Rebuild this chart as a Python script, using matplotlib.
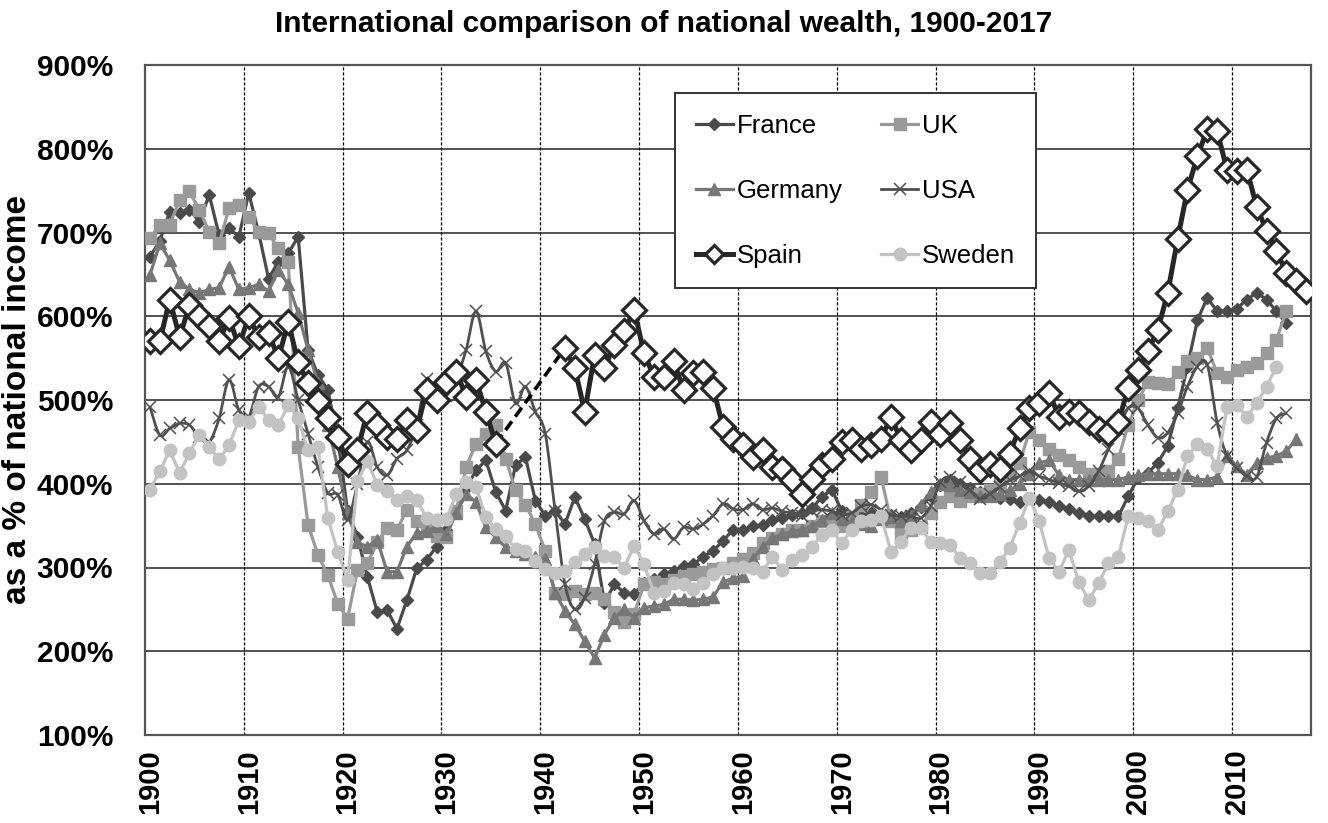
import numpy as np
import matplotlib
matplotlib.use("Agg")
import matplotlib.pyplot as plt
from matplotlib.lines import Line2D
from matplotlib.path import Path
from matplotlib.patches import PathPatch

plt.rcParams['font.family'] = ['Liberation Sans', 'DejaVu Sans']

years = np.arange(1900, 2018)
N = None

france = [671, 690, 725, 723, 727, 713, 745, 697, 705, 695,
          747, 700, 645, 665, 675, 695, 560, 530, 512, 455,
          368, 337, 289, 247, 249, 227, 261, 299, 309, 325,
          345, 365, 395, 416, 428, 390, 368, 422, 432, 380,
          362, 368, 352, 384, 358, 328, 258, 280, 270, 268,
          282, 286, 292, 296, 302, 304, 313, 320, 332, 345,
          345, 349, 351, 357, 359, 363, 365, 371, 384, 393,
          368, 360, 362, 365, 360, 363, 360, 365, 372, 385,
          398, 405, 400, 395, 390, 387, 383, 382, 378, 383,
          381, 378, 373, 370, 365, 361, 361, 361, 361, 385,
          407, 413, 425, 445, 490, 540, 595, 622, 606, 606,
          609, 620, 628, 620, 606, 592, N, N]

uk = [693, 709, 709, 739, 749, 727, 701, 687, 729, 733,
      719, 701, 699, 681, 665, 444, 351, 315, 291, 257,
      239, 297, 305, 330, 347, 345, 369, 355, 350, 338,
      336, 368, 420, 448, 460, 470, 430, 392, 375, 352,
      320, 270, 268, 272, 268, 270, 262, 247, 235, 245,
      280, 283, 280, 285, 290, 292, 295, 298, 300, 305,
      310, 317, 329, 335, 340, 345, 345, 350, 355, 352,
      350, 360, 375, 390, 408, 355, 340, 345, 348, 365,
      378, 385, 380, 385, 388, 392, 400, 410, 425, 462,
      452, 442, 434, 428, 420, 412, 412, 415, 430, 470,
      500, 522, 520, 519, 533, 547, 550, 562, 532, 528,
      536, 540, 544, 556, 572, 606, N, N]

germany = [649, 687, 667, 641, 632, 628, 632, 634, 659, 632,
           634, 638, 630, 655, 638, 604, 560, 520, 470, 420,
           365, 330, 325, 333, 295, 295, 325, 341, 343, 349,
           340, 365, 388, 378, 348, 336, 324, 320, 316, 312,
           310, 270, 248, 232, 212, 192, 220, 240, 250, 240,
           252, 254, 256, 262, 262, 261, 262, 265, 283, 287,
           290, 310, 325, 335, 340, 343, 345, 350, 357, 365,
           358, 355, 352, 350, 358, 360, 356, 362, 375, 390,
           400, 398, 392, 390, 385, 385, 388, 392, 400, 412,
           425, 428, 410, 405, 405, 405, 405, 405, 405, 408,
           410, 412, 412, 412, 412, 410, 405, 405, 408, 433,
           421, 411, 425, 431, 433, 439, 453, N]

usa = [492, 458, 466, 472, 470, 456, 450, 478, 524, 488,
       480, 516, 516, 504, 540, 500, 460, 420, 389, 387,
       357, 400, 450, 420, 410, 430, 440, 470, 525, 500,
       505, 525, 560, 606, 558, 534, 544, 496, 516, 486,
       460, 368, 280, 250, 264, 304, 356, 366, 364, 380,
       356, 340, 346, 334, 348, 346, 352, 362, 376, 370,
       369, 376, 369, 371, 367, 365, 361, 367, 369, 367,
       363, 365, 373, 375, 369, 363, 361, 361, 359, 373,
       402, 408, 402, 392, 382, 388, 396, 404, 409, 415,
       409, 405, 401, 397, 391, 397, 415, 441, 465, 490,
       490, 470, 455, 461, 484, 516, 540, 542, 473, 433,
       419, 409, 408, 449, 478, 484, N, N]

spain = [570, 570, 620, 575, 613, 600, 588, 570, 598, 564,
         600, 575, 580, 550, 593, 545, 520, 499, 478, 456,
         424, 440, 485, 470, 456, 454, 476, 464, 512, 500,
         522, 534, 504, 524, 486, 448, N, N, N, N,
         N, N, 562, 538, 486, 554, 538, 566, 582, 608,
         556, 528, 528, 546, 512, 532, 534, 514, 468, 454,
         446, 432, 440, 420, 418, 404, 388, 406, 422, 430,
         450, 452, 442, 446, 454, 480, 452, 440, 452, 474,
         460, 472, 452, 430, 416, 424, 418, 436, 466, 490,
         496, 508, 480, 486, 484, 474, 465, 461, 474, 514,
         536, 558, 584, 628, 692, 751, 791, 823, 821, 775,
         773, 775, 731, 702, 678, 652, 642, 630]

sweden = [393, 415, 440, 413, 437, 458, 444, 429, 446, 476,
          474, 492, 476, 470, 494, 478, 440, 444, 359, 319,
          285, 403, 427, 399, 391, 381, 385, 381, 359, 357,
          358, 388, 402, 396, 360, 346, 338, 322, 320, 308,
          298, 294, 296, 306, 316, 324, 314, 312, 300, 326,
          304, 270, 272, 282, 280, 274, 282, 292, 300, 299,
          301, 299, 295, 313, 297, 309, 315, 325, 339, 345,
          329, 345, 355, 357, 361, 319, 331, 347, 347, 331,
          329, 327, 311, 305, 293, 293, 307, 323, 353, 383,
          355, 311, 295, 321, 283, 261, 281, 305, 313, 361,
          359, 355, 345, 367, 393, 433, 447, 441, 421, 492,
          494, 480, 496, 516, 540, N, N, N]


def arr(v):
    return np.array([np.nan if a is None else a for a in v], dtype=float)


def smooth_path(xs, ys):
    # Excel-style smoothed line: Catmull-Rom segments as cubic Beziers
    m = ~np.isnan(ys)
    p = np.column_stack([xs[m], ys[m]])
    verts, codes = [p[0]], [Path.MOVETO]
    for i in range(len(p) - 1):
        p0 = p[i - 1] if i > 0 else p[i]
        p3 = p[i + 2] if i + 2 < len(p) else p[i + 1]
        c1 = p[i] + (p[i + 1] - p0) / 6
        c2 = p[i + 1] - (p3 - p[i]) / 6
        verts += [c1, c2, p[i + 1]]
        codes += [Path.CURVE4] * 3
    return Path(verts, codes)


x = years + 0.5
fig = plt.figure(figsize=(13.28, 8.23), dpi=100)
ax = fig.add_axes([145 / 1328, 1 - 735 / 823, 1166 / 1328, 670 / 823])

styles = {
    "France": dict(color="#4a4a4a", marker="D", ms=6.5, lw=2.3, mfc="#4a4a4a", mec="#4a4a4a"),
    "UK": dict(color="#9a9a9a", marker="s", ms=8, lw=2.3, mfc="#9a9a9a", mec="#9a9a9a"),
    "Germany": dict(color="#777777", marker="^", ms=9, lw=2.3, mfc="#777777", mec="#777777"),
    "USA": dict(color="#505050", marker="x", ms=9, lw=2.0, mew=1.1),
    "Spain": dict(color="#262626", marker="D", ms=12.5, lw=3.6, mfc="white", mec="#262626", mew=2.3),
    "Sweden": dict(color="#c3c3c3", marker="o", ms=9, lw=2.3, mfc="#c3c3c3", mec="#c3c3c3"),
}
series = {"France": france, "UK": uk, "Germany": germany, "USA": usa,
          "Spain": spain, "Sweden": sweden}

for i, (name, vals) in enumerate(series.items()):
    z = 6 if name == "Spain" else 3 + i * 0.1
    st = styles[name]
    if name == "USA":
        ax.add_patch(PathPatch(smooth_path(x, arr(vals)), fill=False,
                               edgecolor=st["color"], lw=st["lw"], zorder=z))
        ax.plot(x, arr(vals), ls="none", zorder=z, marker="x", ms=st["ms"],
                mew=st["mew"], color=st["color"])
    else:
        ax.plot(x, arr(vals), zorder=z, **st)

# Spanish civil war gap bridged with a dashed line
sp = arr(spain)
ax.plot([x[35], x[42]], [sp[35], sp[42]], color="black", ls=(0, (3, 1.6)),
        lw=2.6, zorder=5.5)

ax.set_xlim(1900, 2018)
ax.set_ylim(100, 900)
ax.set_yticks(range(100, 901, 100))
ax.set_yticklabels([f"{v}%" for v in range(100, 901, 100)],
                   fontsize=21.5, fontweight="bold")
dec = np.arange(1900, 2011, 10)
ax.set_xticks(dec + 0.5)
ax.set_xticklabels([str(d) for d in dec], rotation=90, fontsize=21,
                   fontweight="bold")
ax.tick_params(axis="y", length=0, pad=23)
ax.tick_params(axis="x", length=0, pad=10)
for d in dec[1:]:
    ax.axvline(d, color="black", ls=(0, (2.5, 1.5)), lw=0.9, zorder=1)
for v in range(200, 900, 100):
    ax.axhline(v, color="#222222", lw=1.1, zorder=1)
for s in ax.spines.values():
    s.set_color("#555555")
    s.set_linewidth(1.6)

ax.set_ylabel("as a % of national income", fontsize=24, fontweight="bold")
ax.yaxis.set_label_coords(-0.096, 0.5)
fig.suptitle("International comparison of national wealth, 1900-2017",
             fontsize=21.5, fontweight="bold", y=0.988)

order = ["France", "Germany", "Spain", "UK", "USA", "Sweden"]
handles = []
for n in order:
    st = dict(styles[n])
    st["ms"] = min(st["ms"], 9.5)
    handles.append(Line2D([], [], **st))
leg = ax.legend(handles, order, ncol=2, loc="upper left",
                bbox_to_anchor=(0.4545, 0.958), fontsize=18.5, frameon=True,
                fancybox=False, edgecolor="#333333", framealpha=1,
                labelspacing=1.6, handlelength=1.45, handletextpad=0.15,
                columnspacing=1.5, borderpad=0.8, borderaxespad=0)
leg.get_frame().set_linewidth(1.4)
leg.set_zorder(10)

fig.savefig("out.png", dpi=100)
